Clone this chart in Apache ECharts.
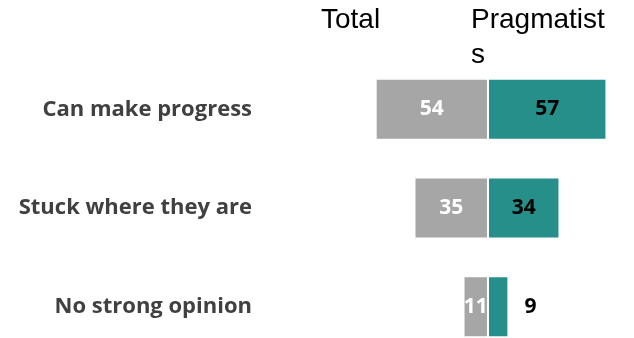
<!DOCTYPE html>
<html>
<head>
<meta charset="utf-8">
<script src="https://cdn.jsdelivr.net/npm/echarts@6/dist/echarts.min.js"></script>
<style>
  html, body { margin: 0; padding: 0; background: #ffffff; }
  #chart { width: 634px; height: 338px; }
</style>
</head>
<body>
<div id="chart"></div>
<script>
// Survey answers, shown for all respondents and for pragmatists
const categories = ['Can make progress', 'Stuck where they are', 'No strong opinion'];
const totalValues = [54, 35, 11];
const pragmatistValues = [57, 34, 9];
const groupNames = ['Total', 'Pragmatist\ns'];

const GRAY = '#a6a6a6';
const TEAL = '#268f8a';
const SCALE_MAX = 70;

const chart = echarts.init(document.getElementById('chart'));

const labelFont = { fontFamily: 'Open Sans', fontWeight: 'bold', fontSize: 21 };
const headerStyle = {
  fontFamily: 'Liberation Sans', fontWeight: 'normal', fontSize: 28, color: '#000000', lineHeight: 35
};

chart.setOption({
  animation: false,
  backgroundColor: '#ffffff',
  title: [
    { text: groupNames[0], left: 321, top: 3, padding: 0, textStyle: headerStyle },
    { text: groupNames[1], left: 471, top: 3, padding: 0, textStyle: headerStyle }
  ],
  grid: [
    { left: 344, right: 147, top: 60, height: 296, outerBoundsMode: 'none', containLabel: false },
    { left: 489, right: 2, top: 60, height: 296, outerBoundsMode: 'none', containLabel: false }
  ],
  xAxis: [
    { gridIndex: 0, type: 'value', min: 0, max: SCALE_MAX, inverse: true, show: false },
    { gridIndex: 1, type: 'value', min: 0, max: SCALE_MAX, show: false }
  ],
  yAxis: [
    {
      gridIndex: 0, type: 'category', data: categories, inverse: true,
      axisLine: { show: false }, axisTick: { show: false }, splitLine: { show: false },
      axisLabel: { margin: 92, color: '#404040', fontFamily: 'Open Sans', fontWeight: 'bold', fontSize: 22 }
    },
    {
      gridIndex: 1, type: 'category', data: categories, inverse: true,
      axisLine: { show: false }, axisTick: { show: false }, splitLine: { show: false },
      axisLabel: { show: false }
    }
  ],
  series: [
    {
      name: 'Total', type: 'bar', xAxisIndex: 0, yAxisIndex: 0,
      data: totalValues, barWidth: 59,
      itemStyle: { color: GRAY },
      label: Object.assign({ show: true, position: 'inside', color: '#ffffff' }, labelFont)
    },
    {
      name: 'Pragmatists', type: 'bar', xAxisIndex: 1, yAxisIndex: 1,
      data: pragmatistValues.map(v => v < 15
        ? { value: v, label: { position: 'right', distance: 17 } }
        : v),
      barWidth: 59,
      itemStyle: { color: TEAL },
      label: Object.assign({ show: true, position: 'inside', color: '#000000' }, labelFont)
    }
  ]
});
</script>
</body>
</html>
